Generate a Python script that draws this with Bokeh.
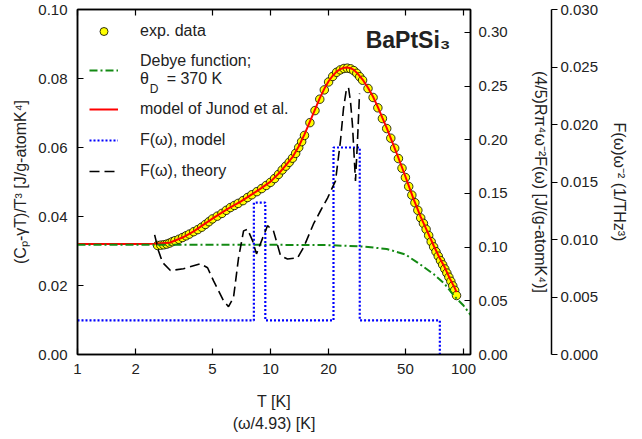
from bokeh.plotting import figure
from bokeh.models import (Range1d, LogAxis, LinearAxis, FixedTicker, NumeralTickFormatter,
                          BasicTickFormatter, Legend, LegendItem, Label)
from bokeh.embed import file_html
from bokeh.resources import INLINE

# ---------------- data ----------------
exp_T = [2.6, 2.7, 2.8, 2.9, 3.0, 3.1, 3.2, 3.35, 3.5, 3.65, 3.8, 4.0, 4.2, 4.4, 4.6, 4.8,
         5.0, 5.3, 5.6, 5.9, 6.2, 6.5, 6.8, 7.2, 7.6, 8.0, 8.5, 9.0, 9.5, 10, 10.5, 11,
         11.5, 12, 12.5, 13, 13.5, 14, 14.5, 15, 16, 17, 18, 19, 20, 21, 22, 23, 24, 25,
         26, 27, 28, 29, 30, 32, 34, 36, 38, 40, 42, 44, 46, 48, 50, 52, 54, 56, 58, 60,
         62, 64, 66, 68, 70, 72, 74, 76, 78, 80, 82, 84, 86, 88, 90, 92]
exp_val = [0.0316, 0.0317, 0.0318, 0.0320, 0.0323, 0.0327, 0.0330, 0.0334, 0.0339, 0.0344,
           0.0349, 0.0356, 0.0362, 0.0369, 0.0377, 0.0385, 0.0393, 0.0401, 0.0409, 0.0418,
           0.0426, 0.0432, 0.0438, 0.0446, 0.0455, 0.0463, 0.0472, 0.0481, 0.0490, 0.0499,
           0.0510, 0.0522, 0.0535, 0.0546, 0.0557, 0.0569, 0.0583, 0.0600, 0.0617, 0.0635,
           0.0672, 0.0707, 0.0740, 0.0767, 0.0790, 0.0806, 0.0818, 0.0825, 0.0829, 0.0830,
           0.0828, 0.0823, 0.0815, 0.0805, 0.0795, 0.0771, 0.0745, 0.0715, 0.0684, 0.0655,
           0.0627, 0.0598, 0.0568, 0.0540, 0.0513, 0.0487, 0.0462, 0.0440, 0.0418, 0.0396,
           0.0380, 0.0363, 0.0345, 0.0327, 0.0312, 0.0298, 0.0285, 0.0272, 0.0260, 0.0248,
           0.0236, 0.0224, 0.0212, 0.0199, 0.0186, 0.0171]

model_T = [1, 1.5, 2, 2.5, 3, 3.5, 4, 5, 6, 7, 8, 9, 10, 11, 12, 13, 14, 15, 16, 17, 18,
           19, 20, 21, 22, 23, 24, 25, 26, 27, 28, 30, 32, 34, 36, 38, 40, 45, 50, 55, 60,
           65, 70, 75, 80, 85, 90, 92]
model_val = [0.0320, 0.0320, 0.0320, 0.0321, 0.0324, 0.0339, 0.0357, 0.0394, 0.0422, 0.0443,
             0.0464, 0.0483, 0.0501, 0.0524, 0.0548, 0.0572, 0.0603, 0.0638, 0.0675, 0.0710,
             0.0743, 0.0770, 0.0792, 0.0808, 0.0820, 0.0827, 0.0831, 0.0832, 0.0830, 0.0825,
             0.0817, 0.0797, 0.0773, 0.0747, 0.0717, 0.0686, 0.0657, 0.0584, 0.0516, 0.0452,
             0.0399, 0.0356, 0.0316, 0.0281, 0.0252, 0.0220, 0.0193, 0.0181]

debye_T = [1, 2, 5, 10, 20, 30, 40, 50, 60, 70, 80, 90, 100, 108.7]
debye_val = [0.0318, 0.0318, 0.0318, 0.0318, 0.0317, 0.0313, 0.0306, 0.0290, 0.0260,
             0.0233, 0.0204, 0.0168, 0.0142, 0.0115]

# F(omega) model, step function (right-most axis units, 1/THz^3)
fmodel_T = [1, 8.2, 9.4, 21.2, 29.0, 75.4]
fmodel_val = [0.00296, 0.0132, 0.00296, 0.0180, 0.00296, 0.0]

# F(omega) theory (right-most axis units)
ftheory_T = [2.51, 2.63, 2.76, 3.03, 3.54, 4.34, 4.72, 5.07, 5.71, 6.06, 6.43, 6.83, 7.25,
             7.60, 8.07, 8.46, 9.09, 9.65, 10.36, 11.27, 12.25, 13.8, 14.83, 16.7, 18.16,
             19.74, 21.72, 23.05, 23.89, 24.76, 25.36, 25.97, 26.6, 27.56, 28.24, 28.92]
ftheory_val = [0.0104, 0.0090, 0.0080, 0.0073, 0.00745, 0.0079, 0.00754, 0.0064, 0.00468,
               0.00416, 0.00494, 0.0084, 0.01075, 0.0109, 0.0099, 0.00875, 0.0101, 0.0112,
               0.01075, 0.0086, 0.0083, 0.0084, 0.0093, 0.01135, 0.0125, 0.0136, 0.0151,
               0.0186, 0.0214, 0.0231, 0.0232, 0.0220, 0.0199, 0.0151, 0.0186, 0.0227]

x_ticks = [1, 2, 5, 10, 20, 50, 100]
left_ticks = [0.0, 0.02, 0.04, 0.06, 0.08, 0.10]
r1_ticks = [0.0, 0.05, 0.10, 0.15, 0.20, 0.25, 0.30]
r2_ticks = [0.0, 0.005, 0.010, 0.015, 0.020, 0.025, 0.030]

FONT = "Liberation Sans"
TXT = "#222222"
TICK_FS = "15px"
LAB_FS = "16px"

p = figure(width=640, height=436, x_axis_type="log",
           x_range=Range1d(1, 108.7), y_range=Range1d(0, 0.1),
           output_backend="svg", toolbar_location=None,
           min_border_left=77, min_border_right=170, min_border_top=9, min_border_bottom=82)
p.extra_y_ranges = {"r1": Range1d(0, 0.3214), "f": Range1d(0, 0.03)}
p.grid.visible = False
p.outline_line_color = "black"
p.outline_line_width = 1.5
p.background_fill_color = "white"
p.border_fill_color = "white"


def style(ax, inward=True):
    ax.axis_line_color = "black"
    ax.axis_line_width = 1.5
    ax.major_tick_line_color = "black"
    ax.major_tick_line_width = 1.2
    if inward:
        ax.major_tick_in = 6
        ax.major_tick_out = 0
    else:
        ax.major_tick_in = 0
        ax.major_tick_out = 6
    ax.minor_tick_line_color = None
    ax.major_label_text_font = FONT
    ax.major_label_text_font_size = TICK_FS
    ax.major_label_text_color = TXT
    ax.axis_label_text_font = FONT
    ax.axis_label_text_font_size = LAB_FS
    ax.axis_label_text_font_style = "normal"
    ax.axis_label_text_color = TXT


xax = p.xaxis[0]
style(xax)
xax.ticker = FixedTicker(ticks=x_ticks)
xax.formatter = BasicTickFormatter()
xax.major_label_standoff = 9
xax.axis_label = "T [K]\n(ω/4.93) [K]"
xax.axis_label_standoff = 16
xax.axis_label_text_line_height = 1.3

yax = p.yaxis[0]
style(yax)
yax.ticker = FixedTicker(ticks=left_ticks)
yax.formatter = NumeralTickFormatter(format="0.00")
yax.major_label_standoff = 10
yax.axis_label = "(Cₚ-γT)/T³ [J/g-atomK⁴]"
yax.axis_label_standoff = 6

top = LogAxis(ticker=FixedTicker(ticks=x_ticks))
style(top)
top.major_label_overrides = {t: "" for t in x_ticks}
top.major_label_standoff = 0
p.add_layout(top, "above")

ax1 = LinearAxis(y_range_name="r1", ticker=FixedTicker(ticks=r1_ticks),
                 formatter=NumeralTickFormatter(format="0.00"))
style(ax1)
ax1.major_label_standoff = 8
ax1.axis_label = "(4/5)Rπ⁴ω⁻²F(ω) [J/(g-atomK⁴)]"
ax1.axis_label_standoff = 21
p.add_layout(ax1, "right")

ax2 = LinearAxis(y_range_name="f", ticker=FixedTicker(ticks=r2_ticks),
                 formatter=NumeralTickFormatter(format="0.000"))
style(ax2, inward=False)
ax2.major_label_standoff = 3
ax2.axis_label = "F(ω)ω⁻² (1/THz³)"
ax2.axis_label_standoff = 10
p.add_layout(ax2, "right")

r_exp = p.scatter(exp_T, exp_val, marker="circle", size=8.5, fill_color="#ffff00",
                  line_color="black", line_width=0.8)
r_model = p.line(model_T, model_val, line_color="#ff0000", line_width=2)
r_debye = p.line(debye_T, debye_val, line_color="#138a13", line_width=2, line_dash="8 3 2 3")
r_fmodel = p.step(fmodel_T, fmodel_val, mode="after", y_range_name="f",
                  line_color="#0000ff", line_width=2.2, line_dash="2 2")
r_ftheory = p.line(ftheory_T, ftheory_val, y_range_name="f", line_color="black",
                   line_width=1.6, line_dash="10 5")

legend = Legend(items=[
    LegendItem(label="exp. data", renderers=[r_exp]),
    LegendItem(label="Debye function;\nθ    = 370 K", renderers=[r_debye]),
    LegendItem(label="model of Junod et al.", renderers=[r_model]),
    LegendItem(label="F(ω), model", renderers=[r_fmodel]),
    LegendItem(label="F(ω), theory", renderers=[r_ftheory]),
], location="top_left")
legend.border_line_color = None
legend.background_fill_alpha = 0
legend.padding = 0
legend.margin = 12
legend.spacing = 11
legend.glyph_width = 29
legend.glyph_height = 20
legend.label_height = 20
legend.label_standoff = 22
legend.label_text_font = FONT
legend.label_text_font_size = LAB_FS
legend.label_text_color = TXT
legend.label_text_line_height = 1.3
p.add_layout(legend)

# subscript "D" of theta_D in the legend
sub_d = Label(x=2.37, y=0.0770, text="D", text_baseline="middle",
              text_font=FONT, text_font_size="12px", text_color=TXT)
p.add_layout(sub_d)

title = Label(x=85.6, y=0.0911, text="BaPtSi₃", text_align="right",
              text_baseline="alphabetic",
              text_font=FONT, text_font_size="23px", text_font_style="bold",
              text_color=TXT)
p.add_layout(title)

open("out.html", "w").write(file_html(p, INLINE))
